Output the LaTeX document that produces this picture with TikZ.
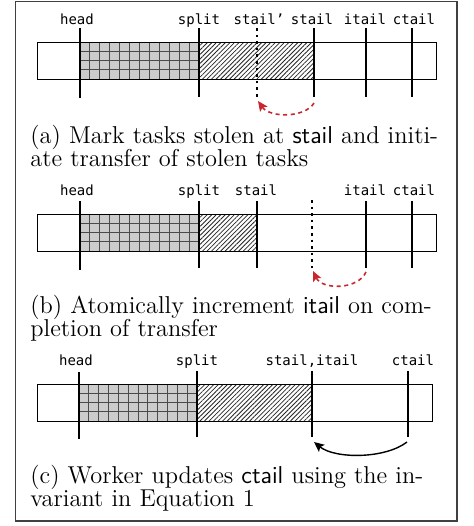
\documentclass[tikz,border=0pt]{standalone}
\usepackage{fontspec}
\usetikzlibrary{arrows.meta,patterns.meta}
\newfontfamily\lblfont{DejaVu Sans Mono}
\definecolor{arrowred}{HTML}{C8282D}
\definecolor{framegray}{HTML}{404040}
\definecolor{gridline}{HTML}{4A4A4A}
\definecolor{cellgray}{HTML}{CCCCCC}
\newcommand{\capsize}{\fontsize{12.2}{11.4}\selectfont\lineskiplimit=-20pt\lineskip=0pt}
\tikzset{
  barbox/.style={draw=black, line width=0.5pt},
  tickline/.style={line width=1.3pt},
  dottick/.style={line width=1.3pt, dash pattern=on 1.3pt off 2pt},
  lbltext/.style={font=\lblfont\fontsize{7}{8}\selectfont, inner sep=0pt, anchor=base},
  captext/.style={font=\capsize, inner sep=0pt, anchor=base west, text width=215pt, align=left},
  cellfill/.style={fill=cellgray},
  gridln/.style={draw=gridline, line width=0.5pt},
  hatchfill/.style={pattern={Lines[angle=45,distance=1.6pt,line width=0.4pt]}, pattern color=black!85},
  redarrow/.style={draw=arrowred, line width=0.8pt, dash pattern=on 2pt off 1.8pt, -{Stealth[length=5pt,width=4.5pt,inset=1pt]}},
  blackarrow/.style={draw=black, line width=0.7pt, -{Stealth[length=5pt,width=4.5pt,inset=1pt]}},
  outerframe/.style={draw=framegray, line width=0.9pt},
}
\begin{document}
\begin{tikzpicture}[x=0.5pt,y=-0.5pt]
\useasboundingbox (0,0) rectangle (473,526);
\draw[outerframe] (15.5,1.5) rectangle (457,521);

% ---------- panel (a) ----------
\fill[cellfill] (80,42) rectangle (199,79);
\foreach \i in {1,...,11} \draw[gridln] ({80+\i*119/12},42) -- ({80+\i*119/12},79);
\foreach \j in {1,2,3} \draw[gridln] (80,{42+\j*37/4}) -- (199,{42+\j*37/4});
\fill[hatchfill] (199,42) rectangle (314,79);
\draw[barbox] (37,42) rectangle (436,79);
\coordinate (aHt) at (80,28);  \coordinate (aHb) at (80,98);
\coordinate (aSpt) at (199,28); \coordinate (aSpb) at (199,97);
\coordinate (aSPt) at (257,28); \coordinate (aSPb) at (257,97);
\coordinate (aSt) at (314,28); \coordinate (aSb) at (314,97);
\coordinate (aIt) at (366,28); \coordinate (aIb) at (366,97);
\coordinate (aCt) at (412,28); \coordinate (aCb) at (412,97);
\draw[tickline] (aHt) -- (aHb);
\draw[tickline] (aSpt) -- (aSpb);
\draw[dottick] (aSPt) -- (aSPb);
\draw[tickline] (aSt) -- (aSb);
\draw[tickline] (aIt) -- (aIb);
\draw[tickline] (aCt) -- (aCb);
\node[lbltext] (aLh) at (77,24) {head};
\node[lbltext] (aLsp) at (199,24) {split};
\node[lbltext] (aLsq) at (259,24) {stail’};
\node[lbltext] (aLs) at (312,24) {stail};
\node[lbltext] (aLi) at (365,24) {itail};
\node[lbltext] (aLc) at (414,24) {ctail};
\coordinate (aArS) at (314,103);
\coordinate (aArE) at (258,101);
\draw[redarrow] (aArS) .. controls (305,118) and (270,118) .. (aArE);
\node[captext] (aCap) at (30,143.8) {\makebox[201.5pt][s]{(a) Mark tasks stolen at \textsf{stail} and initi\mbox{-}}\\ate transfer of stolen tasks};

% ---------- panel (b) ----------
\fill[cellfill] (80,214) rectangle (199,251);
\foreach \i in {1,...,11} \draw[gridln] ({80+\i*119/12},214) -- ({80+\i*119/12},251);
\foreach \j in {1,2,3} \draw[gridln] (80,{214+\j*37/4}) -- (199,{214+\j*37/4});
\fill[hatchfill] (199,214) rectangle (257,251);
\draw[barbox] (37,214) rectangle (436,251);
\coordinate (bHt) at (80,201);  \coordinate (bHb) at (80,270);
\coordinate (bSpt) at (199,201); \coordinate (bSpb) at (199,268);
\coordinate (bSt) at (257,201); \coordinate (bSb) at (257,268);
\coordinate (bDt) at (312,200); \coordinate (bDb) at (312,268);
\coordinate (bIt) at (366,201); \coordinate (bIb) at (366,268);
\coordinate (bCt) at (412,201); \coordinate (bCb) at (412,268);
\draw[tickline] (bHt) -- (bHb);
\draw[tickline] (bSpt) -- (bSpb);
\draw[tickline] (bSt) -- (bSb);
\draw[dottick] (bDt) -- (bDb);
\draw[tickline] (bIt) -- (bIb);
\draw[tickline] (bCt) -- (bCb);
\node[lbltext] (bLh) at (77,195) {head};
\node[lbltext] (bLsp) at (199,195) {split};
\node[lbltext] (bLs) at (256,195) {stail};
\node[lbltext] (bLi) at (365,195) {itail};
\node[lbltext] (bLc) at (414,195) {ctail};
\coordinate (bArS) at (366,272);
\coordinate (bArE) at (313,271);
\draw[redarrow] (bArS) .. controls (358,290) and (322,290) .. (bArE);
\node[captext] (bCap) at (30,313.8) {\makebox[201.5pt][s]{(b) Atomically increment \textsf{itail} on com\mbox{-}}\\pletion of transfer};

% ---------- panel (c) ----------
\fill[cellfill] (79,384) rectangle (197,421);
\foreach \i in {1,...,11} \draw[gridln] ({79+\i*118/12},384) -- ({79+\i*118/12},421);
\foreach \j in {1,2,3} \draw[gridln] (79,{384+\j*37/4}) -- (197,{384+\j*37/4});
\fill[hatchfill] (197,384) rectangle (312,421);
\draw[barbox] (37,384) rectangle (432,421);
\coordinate (cHt) at (79,372);  \coordinate (cHb) at (79,439);
\coordinate (cSpt) at (197,371); \coordinate (cSpb) at (197,437);
\coordinate (cSt) at (312,371); \coordinate (cSb) at (312,437);
\coordinate (cCt) at (408,371); \coordinate (cCb) at (408,437);
\draw[tickline] (cHt) -- (cHb);
\draw[tickline] (cSpt) -- (cSpb);
\draw[tickline] (cSt) -- (cSb);
\draw[tickline] (cCt) -- (cCb);
\node[lbltext] (cLh) at (76,365) {head};
\node[lbltext] (cLsp) at (197,365) {split};
\node[lbltext] (cLs) at (312,365) {stail,itail};
\node[lbltext] (cLc) at (413,365) {ctail};
\coordinate (cArS) at (407,442);
\coordinate (cArE) at (314,442);
\draw[blackarrow] (cArS) .. controls (385,459) and (335,459) .. (cArE);
\node[captext] (cCap) at (30,483.8) {\makebox[201.5pt][s]{(c) Worker updates \textsf{ctail} using the in\mbox{-}}\\variant in Equation 1};
\end{tikzpicture}
\end{document}
